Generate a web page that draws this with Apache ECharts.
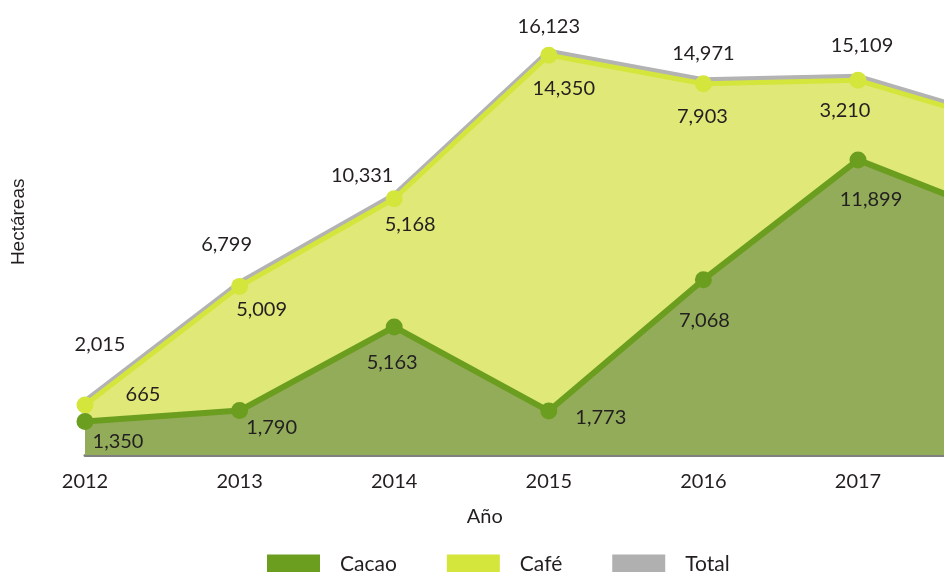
<!DOCTYPE html>
<html>
<head>
<meta charset="utf-8">
<script src="https://cdn.jsdelivr.net/npm/echarts@6/dist/echarts.min.js"></script>
<style>
  html, body { margin: 0; padding: 0; background: #ffffff; overflow: hidden; }
  /* the plot runs on past the right edge of the window, up to 2018 */
  #chart { width: 1040px; height: 572px; }
</style>
</head>
<body>
<div id="chart"></div>
<script>
// Hectares by crop and year
const years = ['2012', '2013', '2014', '2015', '2016', '2017', '2018'];
const cacao = [1350, 1790, 5163, 1773, 7068, 11899, 9450];
const cafe = [665, 5009, 5168, 14350, 7903, 3210, 3800];
const total = [2015, 6799, 10331, 16123, 14971, 15109, 13250];

// Hand-placed label nudges [dx, dy] relative to each point
const totalNudge = [[15, -60], [-13, -42], [-32, -23], [0, -29], [0, -30], [4, -35], [0, -30]];
const cafeNudge = [[58, -10], [22, 23], [16, 26], [15, 33], [-1, 33], [-13, 30], [0, 30]];
const cacaoNudge = [[33, 20], [32, 17], [-2, 36], [52, 7], [1, 41], [13, 40], [0, 40]];

const FONT = 'Lato';
const fmt = v => Number(v).toLocaleString('en-US');

function withLabels(values, nudges) {
  return values.map((v, i) => ({
    value: v,
    label: { offset: nudges[i] }
  }));
}

const baseLabel = {
  show: true,
  position: 'inside',
  align: 'center',
  verticalAlign: 'middle',
  color: '#231f20',
  fontFamily: FONT,
  fontSize: 20,
  formatter: p => fmt(p.value)
};

const chart = echarts.init(document.getElementById('chart'));
chart.setOption({
  animation: false,
  backgroundColor: '#ffffff',
  grid: { left: 85, right: 27.4, top: 8.6, bottom: 117, containLabel: false },
  legend: {
    left: 267,
    top: 554,
    padding: 0,
    icon: 'rect',
    itemWidth: 53,
    itemHeight: 20,
    itemGap: 50,
    itemStyle: { borderWidth: 0 },
    textStyle: { fontFamily: FONT, fontSize: 21, color: '#231f20', padding: [0, 0, 0, 15] },
    data: [
      { name: 'Cacao', itemStyle: { color: '#6b9e1f' } },
      { name: 'Café', itemStyle: { color: '#d4e63c' } },
      { name: 'Total', itemStyle: { color: '#b0b0b0' } }
    ]
  },
  xAxis: {
    type: 'category',
    data: years,
    boundaryGap: false,
    name: 'Año',
    nameLocation: 'middle',
    nameGap: 52,
    nameTextStyle: { fontFamily: FONT, fontSize: 20, color: '#231f20', padding: [0, 128, 0, 0] },
    axisLine: { show: true, lineStyle: { color: '#808080', width: 3 } },
    axisTick: { show: false },
    axisLabel: { margin: 17, fontFamily: FONT, fontSize: 20, color: '#231f20' },
    splitLine: { show: false }
  },
  yAxis: {
    type: 'value',
    min: 0,
    max: 18000,
    name: 'Hectáreas',
    nameLocation: 'middle',
    nameRotate: 90,
    nameGap: 57,
    nameTextStyle: { fontFamily: 'Liberation Sans', fontSize: 19, color: '#231f20', padding: [0, 0, 0, 20] },
    axisLine: { show: false },
    axisTick: { show: false },
    axisLabel: { show: false },
    splitLine: { show: false }
  },
  series: [
    {
      name: 'Total',
      type: 'line',
      z: 1,
      data: withLabels(total, totalNudge),
      symbol: 'circle',
      symbolSize: 0,
      showSymbol: true,
      itemStyle: { color: '#b0b0b0' },
      lineStyle: {
        color: '#b3b3b3', width: 5,
        shadowColor: '#b3b3b3', shadowBlur: 0, shadowOffsetY: -4
      },
      label: baseLabel
    },
    {
      name: 'Cacao',
      type: 'line',
      stack: 'area',
      z: 3,
      data: withLabels(cacao, cacaoNudge),
      symbol: 'circle',
      symbolSize: 17,
      itemStyle: { color: '#6b9e1f' },
      lineStyle: { color: '#6b9e1f', width: 6 },
      areaStyle: { color: '#93ac5a', opacity: 1 },
      label: baseLabel
    },
    {
      name: 'Café',
      type: 'line',
      stack: 'area',
      z: 2,
      data: withLabels(cafe, cafeNudge),
      symbol: 'circle',
      symbolSize: 17,
      itemStyle: { color: '#d4e63c' },
      lineStyle: { color: '#d4e63c', width: 5 },
      areaStyle: { color: '#e0e877', opacity: 1 },
      label: baseLabel
    }
  ]
});
</script>
</body>
</html>
